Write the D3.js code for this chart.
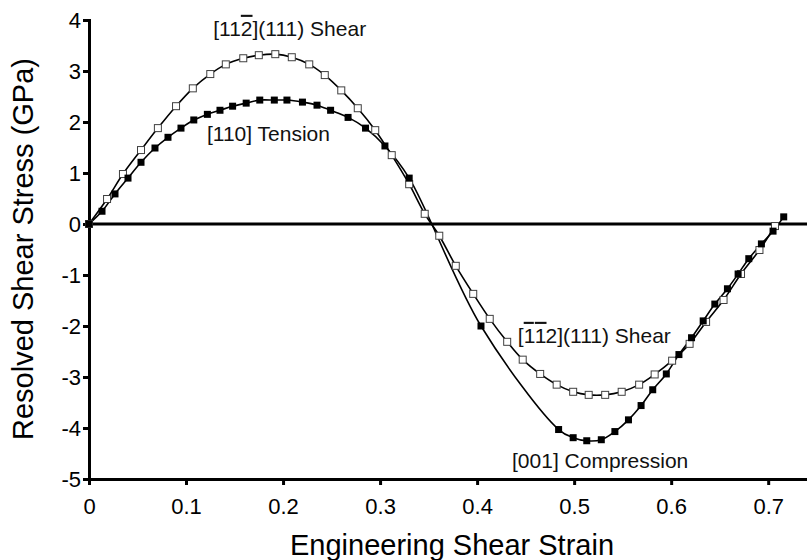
<!DOCTYPE html>
<html>
<head>
<meta charset="utf-8">
<script src="https://cdn.jsdelivr.net/npm/d3@7"></script>
<style>
  body { margin: 0; background: #fff; }
  text { font-family: "Liberation Sans", Arial, sans-serif; }
</style>
</head>
<body>
<div id="chart"></div>
<script>
// [11-2](111) shear, open squares
const shearStrain = [0, 0.0186, 0.035, 0.0536, 0.071, 0.0897, 0.107, 0.125, 0.141, 0.159, 0.175,
  0.192, 0.209, 0.227, 0.243, 0.260, 0.277, 0.295, 0.312, 0.330, 0.346, 0.361, 0.378, 0.396,
  0.413, 0.431, 0.447, 0.465, 0.482, 0.499, 0.515, 0.532, 0.549, 0.567, 0.583, 0.601, 0.619,
  0.636, 0.654, 0.672, 0.691, 0.707];
const shearStress = [0, 0.49, 0.98, 1.45, 1.88, 2.31, 2.66, 2.94, 3.13, 3.25, 3.31,
  3.33, 3.27, 3.13, 2.92, 2.62, 2.27, 1.84, 1.35, 0.78, 0.20, -0.23, -0.82, -1.37,
  -1.86, -2.31, -2.66, -2.94, -3.15, -3.29, -3.35, -3.35, -3.29, -3.15, -2.95, -2.68, -2.35,
  -1.92, -1.49, -0.98, -0.51, -0.04];

// [110] tension / [001] compression, filled squares
const axialStrain = [0, 0.0134, 0.0268, 0.0402, 0.0536, 0.068, 0.0814, 0.0948, 0.108, 0.122,
  0.135, 0.148, 0.162, 0.176, 0.191, 0.204, 0.220, 0.235, 0.249, 0.267, 0.285, 0.305, 0.330,
  0.404, 0.484, 0.499, 0.513, 0.528, 0.542, 0.556, 0.569, 0.581, 0.595, 0.608, 0.621, 0.633,
  0.645, 0.658, 0.669, 0.680, 0.693, 0.705, 0.716];
const axialStress = [0, 0.25, 0.59, 0.90, 1.21, 1.49, 1.70, 1.88, 2.04, 2.15,
  2.23, 2.31, 2.37, 2.43, 2.43, 2.43, 2.39, 2.33, 2.23, 2.09, 1.88, 1.53, 0.90,
  -2.00, -4.03, -4.19, -4.25, -4.23, -4.07, -3.84, -3.56, -3.25, -2.94, -2.56, -2.23, -1.90,
  -1.57, -1.27, -0.98, -0.68, -0.39, -0.14, 0.14];

const xTicks = [0, 0.1, 0.2, 0.3, 0.4, 0.5, 0.6, 0.7];
const yTicks = [-5, -4, -3, -2, -1, 0, 1, 2, 3, 4];

const width = 807, height = 560,
      margin = ({ top: 20, right: 0, bottom: 81, left: 89 });

const shear = shearStrain.map((s, i) => ({ x: s, y: shearStress[i] }));
const axial = axialStrain.map((s, i) => ({ x: s, y: axialStress[i] }));

let svg = d3.select("#chart")
    .append("svg")
    .attr("width", width)
    .attr("height", height);

let x = d3.scaleLinear()
    .domain([0, 0.74])
    .range([margin.left, width - margin.right]);

let y = d3.scaleLinear()
    .domain([-5, 4])
    .range([height - margin.bottom, margin.top]);

// zero line
svg.append("line")
    .attr("x1", x(0)).attr("x2", x(0.74))
    .attr("y1", y(0)).attr("y2", y(0))
    .style("stroke", "black")
    .style("stroke-width", "3px");

let xAxis = svg.append("g")
    .attr("transform", `translate(0,${y(-5)})`)
    .call(d3.axisBottom(x).tickValues(xTicks).tickFormat(d => String(d))
        .tickSizeInner(6).tickSizeOuter(0).tickPadding(13));

let yAxis = svg.append("g")
    .attr("transform", `translate(${x(0)},0)`)
    .call(d3.axisLeft(y).tickValues(yTicks).tickFormat(d => String(d))
        .tickSizeInner(6).tickSizeOuter(0).tickPadding(2));

[xAxis, yAxis].forEach(g => {
    g.select(".domain").style("stroke-width", "3px").style("stroke-linecap", "square");
    g.selectAll(".tick line").style("stroke-width", "3px");
    g.selectAll(".tick text")
        .style("font-size", "22px")
        .attr("fill", "black")
        .style("font-family", "'Liberation Sans', Arial, sans-serif");
});

let line = d3.line()
    .x(d => x(d.x))
    .y(d => y(d.y))
    .curve(d3.curveCatmullRom.alpha(0.5));

svg.append("path")
    .datum(shear)
    .attr("d", line)
    .attr("fill", "none")
    .attr("stroke", "black")
    .attr("stroke-width", 1.6);

svg.append("path")
    .datum(axial)
    .attr("d", line)
    .attr("fill", "none")
    .attr("stroke", "black")
    .attr("stroke-width", 1.6);

const m = 7; // marker size

svg.append("g")
    .selectAll("rect")
    .data(shear)
    .join("rect")
    .attr("x", d => x(d.x) - m / 2)
    .attr("y", d => y(d.y) - m / 2)
    .attr("width", m)
    .attr("height", m)
    .attr("fill", "white")
    .attr("stroke", "#404040")
    .attr("stroke-width", 1);

svg.append("g")
    .selectAll("rect")
    .data(axial)
    .join("rect")
    .attr("x", d => x(d.x) - m / 2)
    .attr("y", d => y(d.y) - m / 2)
    .attr("width", m)
    .attr("height", m)
    .attr("fill", "black");

// curve labels
function label(parts, lx, ly) {
    let t = svg.append("text")
        .attr("x", x(lx))
        .attr("y", y(ly))
        .style("font-size", "21px")
        .attr("fill", "#111");
    parts.forEach(p => {
        t.append("tspan")
            .attr("dx", p[2] || 0)
            .text(p[0])
            .style("text-decoration", p[1] ? "overline" : "none");
    });
}

label([["[11"], ["2", true], ["](111) Shear"]], 0.128, 3.69);
label([["[110] Tension"]], 0.1216, 1.63);
label([["["], ["1", true], ["1", true, 1], ["2](111) Shear", false, -1]], 0.442, -2.33);
label([["[001] Compression"]], 0.436, -4.78);

svg.append("text") // x axis label
    .attr("text-anchor", "middle")
    .attr("x", 452)
    .attr("y", 555)
    .style("font-size", "29px")
    .text("Engineering Shear Strain");

svg.append("text") // y axis label
    .attr("text-anchor", "middle")
    .attr("transform", "translate(33,249) rotate(-90)")
    .style("font-size", "29px")
    .text("Resolved Shear Stress (GPa)");
</script>
</body>
</html>
